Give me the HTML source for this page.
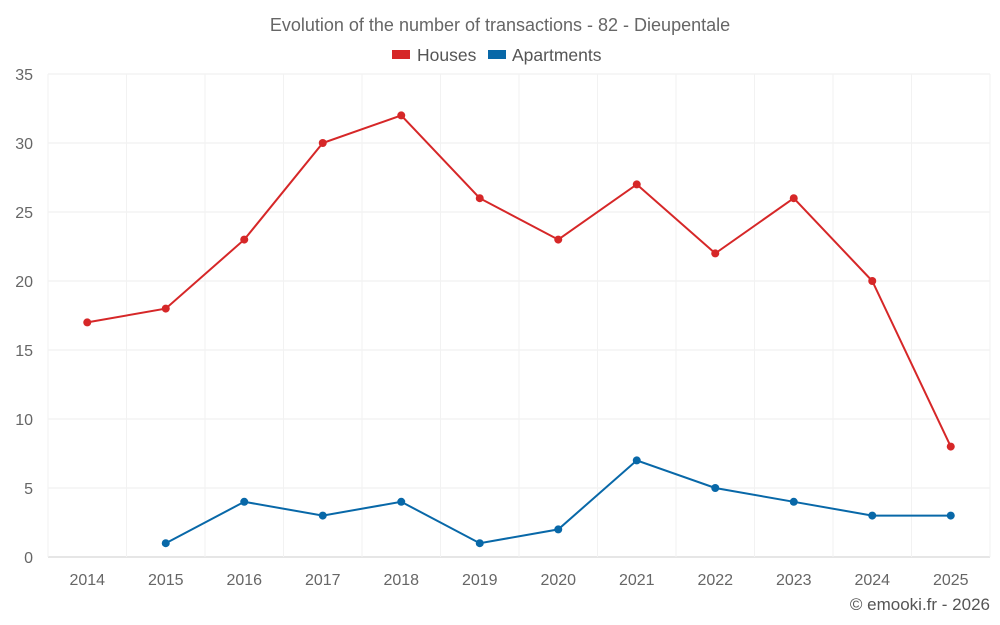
<!DOCTYPE html>
<html><head><meta charset="utf-8"><style>
body{margin:0;background:#fff;}
svg{display:block;font-family:"Liberation Sans",sans-serif;}
</style></head><body>
<svg id="chart" width="1000" height="625">
<text x="500" y="31" text-anchor="middle" font-size="18" fill="#666">Evolution of the number of transactions - 82 - Dieupentale</text>
<g>
<g><rect x="392" y="50" width="18" height="9" fill="#d62728"/><text x="417" y="61" font-size="17.5" fill="#555">Houses</text></g>
<g><rect x="488" y="50" width="18" height="9" fill="#0868a8"/><text x="512" y="61" font-size="17.5" fill="#555">Apartments</text></g>
</g>
<g id="grid"></g>
<g id="axes"></g>
<g id="series"></g>
<text x="990" y="610" text-anchor="end" font-size="17" fill="#555">© emooki.fr - 2026</text>
</svg>
<script>
const categories=["2014","2015","2016","2017","2018","2019","2020","2021","2022","2023","2024","2025"];
const houses=[17,18,23,30,32,26,23,27,22,26,20,8];
const apartments=[null,1,4,3,4,1,2,7,5,4,3,3];
const yTicks=[0,5,10,15,20,25,30,35];
const L=48,R=990,T=74,B=557,YMAX=35;
const bw=(R-L)/categories.length;
const x=i=>L+bw*(i+0.5);
const y=v=>B-(v/YMAX)*(B-T);
const NS="http://www.w3.org/2000/svg";
function mk(tag,attrs,parent){const e=document.createElementNS(NS,tag);for(const k in attrs)e.setAttribute(k,attrs[k]);parent.appendChild(e);return e;}
const grid=document.getElementById('grid'),axes=document.getElementById('axes'),series=document.getElementById('series');
yTicks.forEach(t=>{
 const l=mk('line',{x1:L,x2:R,y1:y(t),y2:y(t),stroke:t===0?'#ccc':'#eee','stroke-width':1},grid);
 
 
 const tx=mk('text',{x:33,y:y(t)+6,'text-anchor':'end','font-size':16,fill:'#666'},axes);
 tx.textContent=t;
 
 
});
for(let i=0;i<=categories.length;i++){
 const l=mk('line',{x1:L+bw*i,x2:L+bw*i,y1:T,y2:B,stroke:'#f2f2f2','stroke-width':1},grid);
 
 
}
categories.forEach((c,i)=>{
 const tx=mk('text',{x:x(i),y:585,'text-anchor':'middle','font-size':16,fill:'#666'},axes);
 tx.textContent=c;
 
 
});
function draw(data,color,name){
 const pts=[];data.forEach((v,i)=>{if(v!==null)pts.push([x(i),y(v)]);});
 const p=mk('polyline',{points:pts.map(p=>p.join(',')).join(' '),fill:'none',stroke:color,'stroke-width':2},series);
 
 
 pts.forEach(q=>{
  const c=mk('circle',{cx:q[0],cy:q[1],r:4,fill:color},series);
  
  
 });
}
draw(houses,'#d62728','houses');
draw(apartments,'#0868a8','apartments');
</script>
</body></html>
